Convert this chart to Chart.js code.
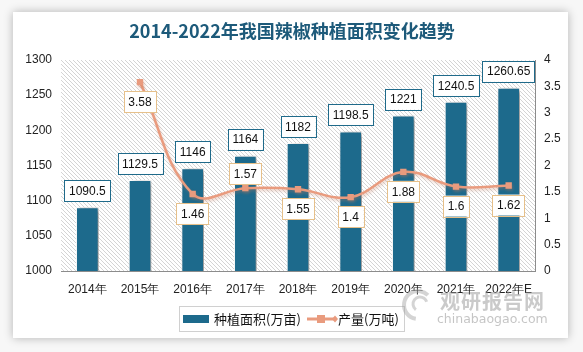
<!DOCTYPE html>
<html><head><meta charset="utf-8">
<script src="https://cdn.jsdelivr.net/npm/chart.js@4/dist/chart.umd.min.js"></script>
<style>
html,body{margin:0;padding:0;background:#f7f7f7;width:583px;height:352px;overflow:hidden;}
#card{position:absolute;left:13px;top:12px;width:555px;height:326px;background:#fff;box-shadow:0 0 9px rgba(0,0,0,0.28);}
#c{position:absolute;left:0;top:0;}
.wm1{position:absolute;left:427px;top:276px;font:bold 20px "Noto Sans CJK SC";line-height:26px;color:rgba(150,150,150,0.5);letter-spacing:1px;}
.wm2{position:absolute;left:424px;top:299px;font:12.5px "DejaVu Sans";line-height:16px;color:rgba(150,150,150,0.55);}
</style></head>
<body>
<div id="card"><canvas id="c" width="555" height="326"></canvas>
<div class="wm1">观研报告网</div><div class="wm2">chinabaogao.com</div></div>
<script>
const titleText = '2014-2022年我国辣椒种植面积变化趋势';
const categories = ['2014年','2015年','2016年','2017年','2018年','2019年','2020年','2021年','2022年E'];
const areaName = '种植面积(万亩)';
const areaValues = [1090.5,1129.5,1146,1164,1182,1198.5,1221,1240.5,1260.65];
const outputName = '产量(万吨)';
const outputValues = [null,3.58,1.46,1.57,1.55,1.4,1.88,1.6,1.62];
const leftTicks = [1000,1300,50];
const rightTicks = [0,4,0.5];

const BAR = '#1d6a8c', LINE = '#e99b7e', LBOX = '#e6c08a';
const F = '"Liberation Sans", Arial, sans-serif';

const hatch = (() => {
  const p = document.createElement('canvas'); p.width = 4; p.height = 4;
  const g = p.getContext('2d'); g.fillStyle = '#fff'; g.fillRect(0,0,4,4);
  g.fillStyle = '#d4d4d4'; for (let i=0;i<4;i++) g.fillRect(i,i,1,1);
  return p;
})();

const bgPlugin = {
  id:'bg',
  beforeDraw(chart){
    const {ctx, chartArea:a} = chart;
    ctx.save(); ctx.fillStyle = ctx.createPattern(hatch,'repeat');
    ctx.fillRect(a.left,a.top,a.right-a.left,a.bottom-a.top); ctx.restore();
    ctx.save(); ctx.fillStyle = '#1d5a7a'; ctx.font = 'bold 18px "Noto Sans CJK SC"';
    ctx.textAlign='center'; ctx.textBaseline='middle';
    ctx.fillText(titleText, 279, 19); ctx.restore();
  },
  beforeDatasetDraw(chart,args){
    const ctx = chart.ctx; ctx.save();
    if (args.index===0){ ctx.shadowColor='rgba(0,0,0,0.45)'; ctx.shadowOffsetX=3; ctx.shadowOffsetY=1; ctx.shadowBlur=5; }
    else { ctx.shadowColor='rgba(200,120,90,0.35)'; ctx.shadowOffsetX=1; ctx.shadowOffsetY=2; ctx.shadowBlur=3; }
  },
  afterDatasetDraw(chart){ chart.ctx.restore(); },
  afterDatasetsDraw(chart){
    const ctx = chart.ctx;
    const box = (txt, cx, y, border, above) => {
      ctx.font = '12px ' + F;
      const w = ctx.measureText(txt).width + 9, h = 21;
      const top = above ? y - h : y;
      ctx.fillStyle = '#fff'; ctx.fillRect(cx - w/2, top, w, h);
      ctx.strokeStyle = border; ctx.lineWidth = 1;
      ctx.strokeRect(Math.round(cx - w/2)+0.5, Math.round(top)+0.5, Math.round(w), h);
      ctx.fillStyle = '#111'; ctx.textAlign='center'; ctx.textBaseline='middle';
      ctx.fillText(txt, cx, top + h/2 + 1);
    };
    ctx.save();
    chart.getDatasetMeta(0).data.forEach((el,i)=>{ box(String(areaValues[i]), el.x, el.y - 6, '#1f6a8a', true); });
    chart.getDatasetMeta(1).data.forEach((el,i)=>{
      if (outputValues[i]==null) return;
      const up = i===3;
      box(String(outputValues[i]), el.x, up ? el.y - 4 : el.y + 9, LBOX, up);
    });
    // legend
    ctx.strokeStyle = '#d0d0d0'; ctx.lineWidth = 1; ctx.strokeRect(166.5, 294.5, 225, 25);
    ctx.fillStyle = BAR; ctx.fillRect(170, 303, 26, 8);
    ctx.font = '13px "Noto Sans CJK SC"'; ctx.fillStyle='#111'; ctx.textAlign='left'; ctx.textBaseline='middle';
    ctx.fillText(areaName, 201, 307);
    ctx.strokeStyle = LINE; ctx.lineWidth = 3; ctx.beginPath(); ctx.moveTo(294,307); ctx.lineTo(322,307); ctx.stroke();
    ctx.fillStyle = LINE; ctx.fillRect(304,303,8,8);
    ctx.beginPath(); ctx.moveTo(322,303.5); ctx.lineTo(325,307); ctx.lineTo(322,310.5); ctx.lineTo(319,307); ctx.fill();
    ctx.fillStyle='#111'; ctx.fillText(outputName, 325, 307);
    // watermark logo swirl
    ctx.strokeStyle = 'rgba(160,160,160,0.45)'; ctx.lineWidth = 4;
    ctx.beginPath(); ctx.arc(405, 293, 14, Math.PI*0.55, Math.PI*1.75); ctx.stroke();
    ctx.lineWidth = 3; ctx.beginPath(); ctx.arc(407, 292, 7, Math.PI*0.7, Math.PI*1.9); ctx.stroke();
    ctx.restore();
  }
};

new Chart(document.getElementById('c'), {
  data:{
    labels: categories,
    datasets:[
      {type:'bar', label:areaName, data:areaValues, yAxisID:'y', backgroundColor:BAR, borderColor:'#fff', borderWidth:1,
       categoryPercentage:1, barPercentage:0.43, order:1},
      {type:'line', label:outputName, data:outputValues, yAxisID:'y1', borderColor:LINE, backgroundColor:LINE, borderWidth:2.5,
       tension:0.4, pointStyle:'rect', pointRadius:4.5, pointBackgroundColor:LINE, pointBorderWidth:0, order:0, spanGaps:false}
    ]
  },
  options:{
    responsive:false, animation:false, devicePixelRatio:1,
    layout:{padding:{top:48,left:0,right:0,bottom:0}},
    plugins:{legend:{display:false}, title:{display:false}, tooltip:{enabled:false}},
    scales:{
      x:{offset:true, grid:{display:false, drawTicks:false}, border:{display:true,color:'#8c8c8c',width:1},
         ticks:{color:'#222', font:{size:12, family:F}, padding:11, maxRotation:0, autoSkip:false},
         afterFit(s){ s.height = 67; }},
      y:{position:'left', min:leftTicks[0], max:leftTicks[1], grid:{display:false, drawTicks:false}, border:{display:false},
         ticks:{stepSize:leftTicks[2], color:'#222', font:{size:12, family:F}, padding:9, callback:v=>String(v)},
         afterFit(s){ s.width = 48; }},
      y1:{position:'right', min:rightTicks[0], max:rightTicks[1], grid:{display:false, drawOnChartArea:false, drawTicks:true, tickLength:4, color:'#8c8c8c'},
         border:{display:true,color:'#8c8c8c',width:1},
         ticks:{stepSize:rightTicks[2], color:'#222', font:{size:12, family:F}, padding:5, callback:v=>String(v)},
         afterFit(s){ s.width = 33; }}
    }
  },
  plugins:[bgPlugin]
});
</script>
</body></html>
